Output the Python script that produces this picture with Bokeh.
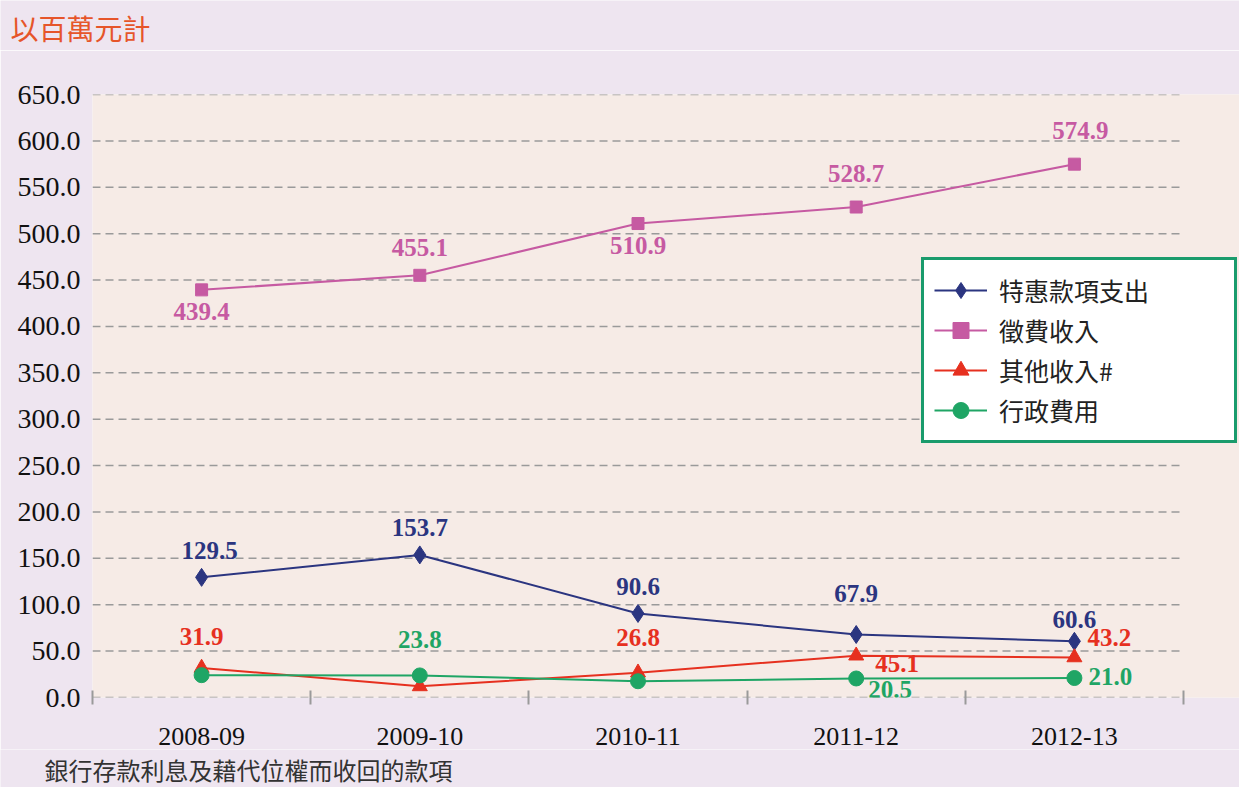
from bokeh.plotting import figure
from bokeh.layouts import column
from bokeh.models import (Range1d, FixedTicker, PrintfTickFormatter, Legend, LegendItem,
                          LabelSet, Label, ColumnDataSource)
from bokeh.embed import file_html
from bokeh.resources import INLINE

# ---- data ----
years = ["2008-09", "2009-10", "2010-11", "2011-12", "2012-13"]
special_payments = [129.5, 153.7, 90.6, 67.9, 60.6]   # 特惠款項支出
levy_income = [439.4, 455.1, 510.9, 528.7, 574.9]      # 徵費收入
other_income = [31.9, 12.0, 26.8, 45.1, 43.2]          # 其他收入#
admin_expenses = [24.1, 23.8, 17.5, 20.5, 21.0]        # 行政費用
y_ticks = [0, 50, 100, 150, 200, 250, 300, 350, 400, 450, 500, 550, 600, 650]

series = [
    ("特惠款項支出", special_payments, "#2b3580", "diamond", 18,
     [8, 0, 0, 0, 0], [27, 27, 27, 41, 22]),
    ("徵費收入", levy_income, "#c65aa2", "square", 12,
     [0, 0, 0, 0, 6], [-22, 28, -22, 34, 34]),
    ("其他收入#", other_income, "#e6301f", "triangle", 15,
     [0, 0, 0, 41, 35], [31, -24, 35, -8, 20]),
    ("行政費用", admin_expenses, "#1fa565", "circle", 15,
     [0, 0, 0, 34, 36], [-35, 36, -30, -11, 2]),
]

BORDER = "#eee5f0"
W = 1239
xs = list(range(len(years)))

# layout geometry (pixels)
frame_left, frame_right_grid = 92, 1183
px_per_cat = (frame_right_grid - frame_left) / len(years)
x_lo = -0.5
x_hi = len(years) - 0.5
x_end = x_hi + (W - frame_right_grid) / px_per_cat   # frame runs to the canvas edge


def strip(height):
    f = figure(width=W, height=height, output_backend="svg", toolbar_location=None,
               x_range=Range1d(0, 1), y_range=Range1d(0, 1),
               x_axis_location=None, y_axis_location=None, min_border=0)
    f.frame_align = False
    f.grid.visible = False
    f.outline_line_color = None
    f.border_fill_color = BORDER
    f.background_fill_color = BORDER
    return f


# ---- top strip with unit note ----
top = strip(50)
top.add_layout(Label(x=10, y=23, x_units="screen", y_units="screen", text="以百萬元計",
                     text_font="Noto Sans CJK TC", text_font_size="28px",
                     text_color="#e6552a", text_baseline="middle", text_align="left"))

# ---- main chart ----
p = figure(width=W, height=699, output_backend="svg", toolbar_location=None,
           x_range=Range1d(x_lo, x_end), y_range=Range1d(0, 650),
           min_border_left=frame_left, min_border_right=0, min_border_top=44,
           min_border_bottom=52)
p.frame_align = False
p.outline_line_color = None
p.border_fill_color = BORDER
p.background_fill_color = "#f6ebe6"

xa = p.xaxis[0]
xa.ticker = FixedTicker(ticks=xs, minor_ticks=[i - 0.5 for i in range(len(years) + 1)])
xa.major_label_overrides = {i: y for i, y in enumerate(years)}
xa.axis_line_color = None
xa.major_tick_line_color = None
xa.major_tick_out = 0
xa.major_tick_in = 0
xa.minor_tick_line_color = "#9a9a9a"
xa.minor_tick_line_width = 2
xa.minor_tick_in = 7
xa.minor_tick_out = 7
xa.major_label_standoff = 23
xa.major_label_text_font = "Liberation Serif"
xa.major_label_text_font_size = "26px"
xa.major_label_text_color = "#111111"

ya = p.yaxis[0]
ya.ticker = FixedTicker(ticks=y_ticks)
ya.formatter = PrintfTickFormatter(format="%.1f")
ya.axis_line_color = None
ya.major_tick_line_color = None
ya.minor_tick_line_color = None
ya.major_tick_out = 0
ya.major_tick_in = 0
ya.major_label_standoff = 12
ya.major_label_text_font = "Liberation Serif"
ya.major_label_text_font_size = "28px"
ya.major_label_text_color = "#111111"

p.xgrid.grid_line_color = None
p.ygrid.grid_line_color = None
# horizontal dashed grid lines limited to the category span
p.segment(x0=[x_lo] * len(y_ticks), x1=[x_hi] * len(y_ticks), y0=y_ticks, y1=y_ticks,
          line_color="#9a9a9a", line_dash="8 5", line_width=1.5, level="underlay")

items = []
for name, vals, color, marker, size, xo, yo in series:
    src = ColumnDataSource(dict(x=xs, y=vals, t=["%.1f" % v for v in vals], xo=xo, yo=yo))
    ln = p.line("x", "y", source=src, line_color=color, line_width=2)
    mk = p.scatter("x", "y", source=src, marker=marker, size=size,
                   fill_color=color, line_color=color)
    items.append(LegendItem(label=name, renderers=[ln, mk]))
    p.add_layout(LabelSet(x="x", y="y", text="t", source=src, x_offset="xo", y_offset="yo",
                          text_align="center", text_baseline="middle",
                          text_font="Liberation Serif", text_font_style="bold",
                          text_font_size="25px", text_color=color))

legend = Legend(items=items, location=(829, 254))
legend.border_line_color = "#1a9b6c"
legend.border_line_alpha = 1
legend.border_line_width = 3
legend.background_fill_color = "white"
legend.background_fill_alpha = 1
legend.padding = 10
legend.spacing = 0
legend.margin = 0
legend.label_height = 40
legend.glyph_height = 40
legend.glyph_width = 53
legend.label_standoff = 12
legend.label_width = 225
legend.label_text_font = "Noto Sans CJK TC"
legend.label_text_font_size = "25px"
legend.label_text_color = "#222222"
p.add_layout(legend, "center")

# ---- bottom strip with footnote ----
bot = strip(38)
bot.add_layout(Label(x=44, y=18, x_units="screen", y_units="screen",
                     text="銀行存款利息及藉代位權而收回的款項",
                     text_font="Noto Sans CJK TC", text_font_size="24px",
                     text_color="#333333", text_baseline="middle", text_align="left"))

layout = column(top, p, bot, spacing=0)
open("out.html", "w").write(file_html(layout, INLINE))
